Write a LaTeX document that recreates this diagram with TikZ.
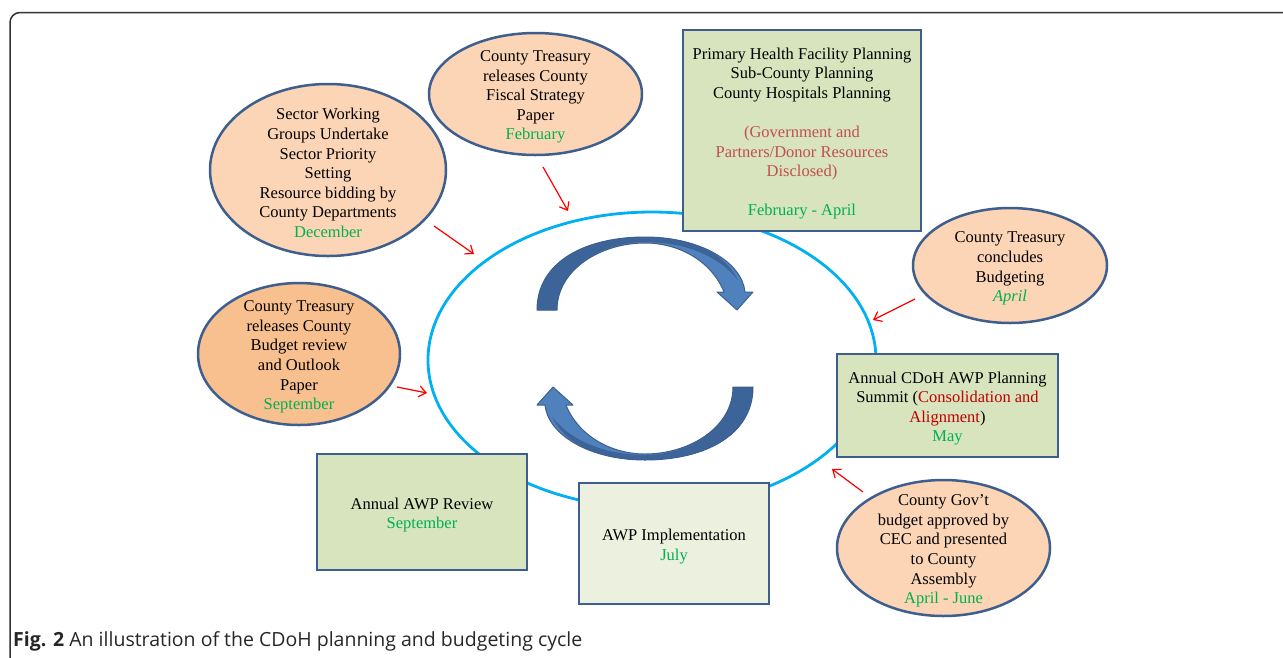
\documentclass[tikz,border=0pt]{standalone}
\usepackage{fontspec}
\setmainfont{Liberation Serif}
\newfontfamily\capfont{Open Sans}
\usetikzlibrary{arrows.meta,shapes.geometric}
\definecolor{bordo}{HTML}{3E5F8E}
\definecolor{pesca}{HTML}{FBD5B5}
\definecolor{arancio}{HTML}{F9C08F}
\definecolor{oliva}{HTML}{D7E4BD}
\definecolor{olivachiaro}{HTML}{EBF1DE}
\definecolor{verde}{HTML}{00B050}
\definecolor{rossoscuro}{HTML}{C00000}
\definecolor{rossotenue}{HTML}{C0504D}
\definecolor{azzurro}{HTML}{00B0F0}
\definecolor{blu}{HTML}{4F81BD}
\definecolor{bluscuro}{HTML}{3D6499}
\newcommand{\mese}[1]{\textcolor{verde}{#1}}
\def\sagoma{(-108,-38.5) .. controls (-108,-86.5) and (-60,-111.5) .. (0,-111.5)
  .. controls (55,-111.5) and (97,-86.5) .. (100,-56.5) -- (108,-56.5) -- (92,-38.5)
  -- (72,-56.5) -- (79,-56.5) .. controls (67,-86.5) and (35,-105.5) .. (0,-105.5)
  .. controls (-45,-105.5) and (-88,-78.5) .. (-88,-38.5) -- cycle}
\tikzset{
ovale/.style={ellipse,draw=bordo,line width=2.5pt,fill=pesca,inner sep=0pt},
riquadro/.style={rectangle,draw=bordo,line width=2.5pt,fill=oliva,inner sep=0pt},
testo/.style={align=center,inner sep=0pt,yshift=-3pt},
freccina/.style={-{Straight Barb[length=7pt,width=11pt]},red,line width=1.2pt},
anello/.style={draw=azzurro,line width=2.8pt},
girofreccia/.pic={
  \fill[blu] \sagoma;
  \fill[bluscuro] (-108,-38.5) .. controls (-108,-86.5) and (-60,-111.5) .. (0,-111.5)
    .. controls (45,-111.5) and (80,-96) .. (93,-68)
    .. controls (75,-92) and (40,-106.5) .. (0,-106.5)
    .. controls (-45,-106.5) and (-88,-78.5) .. (-88,-38.5) -- cycle;
  \draw[bordo,line width=1pt,line join=round] \sagoma;
}}

\begin{document}
\begin{tikzpicture}[x=1pt,y=-1pt,font=\fontsize{16.5}{19.6}\selectfont]

\useasboundingbox (0,0) rectangle (1283,657);
\clip (0,0) rectangle (1283,657);

% cornice
\draw[black!80,line width=1.5pt,rounded corners=10pt] (10,720) -- (10,12.5) -- (1350,12.5);

% ciclo
\draw[anello] (652,360) ellipse [x radius=224, y radius=148];
\pic at (645,348.5) {girofreccia};
\pic[rotate=180] at (645,348.5) {girofreccia};

\node[ovale,minimum width=236,minimum height=172] (swg) at (328,170) {};
\node[testo] at (swg) {Sector Working\\Groups Undertake\\Sector Priority\\Setting\\Resource bidding by\\County Departments\\\mese{December}};

\node[ovale,minimum width=213,minimum height=122] (fiscal) at (535.5,94) {};
\node[testo] at (fiscal) {County Treasury\\releases County\\Fiscal Strategy\\Paper\\\mese{February}};

\node[riquadro,minimum width=238,minimum height=201] (facility) at (802,130.5) {};
\node[testo] at (facility) {Primary Health Facility Planning\\Sub-County Planning\\County Hospitals Planning\\[19.6pt]
   \textcolor{rossotenue}{(Government and}\\\textcolor{rossotenue}{Partners/Donor Resources}\\
   \textcolor{rossotenue}{Disclosed)}\\[19.6pt]\mese{February - April}};

\node[ovale,minimum width=194,minimum height=115] (concludes) at (1010,265.5) {};
\node[testo] at (concludes) {County Treasury\\concludes\\Budgeting\\\mese{\textit{April}}};

\node[riquadro,minimum width=221,minimum height=103] (summit) at (947.5,405.5) {};
\node[testo] at (summit) {Annual CDoH AWP Planning\\Summit (\textcolor{rossoscuro}{Consolidation and}\\
   \textcolor{rossoscuro}{Alignment})\\\mese{May}};

\node[ovale,minimum width=213,minimum height=136] (govt) at (943.5,548) {};
\node[testo] at (govt) {County Gov’t\\budget approved by\\CEC and presented\\to County\\Assembly\\\mese{April - June}};

\node[riquadro,fill=olivachiaro,minimum width=190,minimum height=121] (implement) at (674,543.5) {};
\node[testo] at (implement) {AWP Implementation\\\mese{July}};

\node[riquadro,minimum width=210,minimum height=116] (review) at (422,512) {};
\node[testo] at (review) {Annual AWP Review\\\mese{September}};

\node[ovale,fill=arancio,minimum width=202,minimum height=142] (outlook) at (299,354) {};
\node[testo] at (outlook) {County Treasury\\releases County\\Budget review\\and Outlook\\Paper\\\mese{September}};

% frecce rosse
\coordinate (swg-a) at (434,226);       \coordinate (swg-b) at (474,254);
\coordinate (fiscal-a) at (543,167);    \coordinate (fiscal-b) at (568,211);
\coordinate (concludes-a) at (915,299); \coordinate (concludes-b) at (873,320);
\coordinate (govt-a) at (863,492);      \coordinate (govt-b) at (832,469);
\coordinate (outlook-a) at (397,387);   \coordinate (outlook-b) at (427,393);

\draw[freccina] (swg-a) -- (swg-b);
\draw[freccina] (fiscal-a) -- (fiscal-b);
\draw[freccina] (concludes-a) -- (concludes-b);
\draw[freccina] (govt-a) -- (govt-b);
\draw[freccina] (outlook-a) -- (outlook-b);

\node[anchor=base west,inner sep=0pt,text=black!85,font=\capfont\fontsize{19.5}{23}\selectfont] (didascalia) at (13,646.5)
  {\textbf{Fig. 2} An illustration of the CDoH planning and budgeting cycle};

\end{tikzpicture}
\end{document}
